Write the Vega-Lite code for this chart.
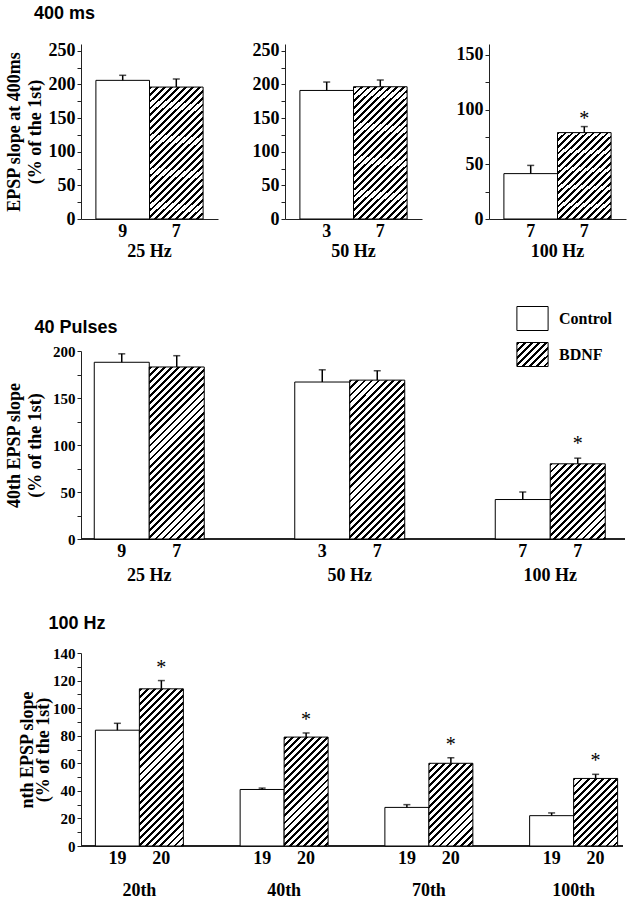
{
  "$schema": "https://vega.github.io/schema/vega-lite/v6.json",
  "padding": {"left": 5, "top": 4, "right": 5, "bottom": 0},
  "params": [
    {"name": "hatch", "value": [
      {"offset":0,"color":"#000"},{"offset":0.01,"color":"#000"},{"offset":0.01,"color":"#fff"},{"offset":0.025,"color":"#fff"},
      {"offset":0.025,"color":"#000"},{"offset":0.035,"color":"#000"},{"offset":0.035,"color":"#fff"},{"offset":0.05,"color":"#fff"},
      {"offset":0.05,"color":"#000"},{"offset":0.06,"color":"#000"},{"offset":0.06,"color":"#fff"},{"offset":0.075,"color":"#fff"},
      {"offset":0.075,"color":"#000"},{"offset":0.085,"color":"#000"},{"offset":0.085,"color":"#fff"},{"offset":0.1,"color":"#fff"},
      {"offset":0.1,"color":"#000"},{"offset":0.11,"color":"#000"},{"offset":0.11,"color":"#fff"},{"offset":0.125,"color":"#fff"},
      {"offset":0.125,"color":"#000"},{"offset":0.135,"color":"#000"},{"offset":0.135,"color":"#fff"},{"offset":0.15,"color":"#fff"},
      {"offset":0.15,"color":"#000"},{"offset":0.16,"color":"#000"},{"offset":0.16,"color":"#fff"},{"offset":0.175,"color":"#fff"},
      {"offset":0.175,"color":"#000"},{"offset":0.185,"color":"#000"},{"offset":0.185,"color":"#fff"},{"offset":0.2,"color":"#fff"},
      {"offset":0.2,"color":"#000"},{"offset":0.21,"color":"#000"},{"offset":0.21,"color":"#fff"},{"offset":0.225,"color":"#fff"},
      {"offset":0.225,"color":"#000"},{"offset":0.235,"color":"#000"},{"offset":0.235,"color":"#fff"},{"offset":0.25,"color":"#fff"},
      {"offset":0.25,"color":"#000"},{"offset":0.26,"color":"#000"},{"offset":0.26,"color":"#fff"},{"offset":0.275,"color":"#fff"},
      {"offset":0.275,"color":"#000"},{"offset":0.285,"color":"#000"},{"offset":0.285,"color":"#fff"},{"offset":0.3,"color":"#fff"},
      {"offset":0.3,"color":"#000"},{"offset":0.31,"color":"#000"},{"offset":0.31,"color":"#fff"},{"offset":0.325,"color":"#fff"},
      {"offset":0.325,"color":"#000"},{"offset":0.335,"color":"#000"},{"offset":0.335,"color":"#fff"},{"offset":0.35,"color":"#fff"},
      {"offset":0.35,"color":"#000"},{"offset":0.36,"color":"#000"},{"offset":0.36,"color":"#fff"},{"offset":0.375,"color":"#fff"},
      {"offset":0.375,"color":"#000"},{"offset":0.385,"color":"#000"},{"offset":0.385,"color":"#fff"},{"offset":0.4,"color":"#fff"},
      {"offset":0.4,"color":"#000"},{"offset":0.41,"color":"#000"},{"offset":0.41,"color":"#fff"},{"offset":0.425,"color":"#fff"},
      {"offset":0.425,"color":"#000"},{"offset":0.435,"color":"#000"},{"offset":0.435,"color":"#fff"},{"offset":0.45,"color":"#fff"},
      {"offset":0.45,"color":"#000"},{"offset":0.46,"color":"#000"},{"offset":0.46,"color":"#fff"},{"offset":0.475,"color":"#fff"},
      {"offset":0.475,"color":"#000"},{"offset":0.485,"color":"#000"},{"offset":0.485,"color":"#fff"},{"offset":0.5,"color":"#fff"},
      {"offset":0.5,"color":"#000"},{"offset":0.51,"color":"#000"},{"offset":0.51,"color":"#fff"},{"offset":0.525,"color":"#fff"},
      {"offset":0.525,"color":"#000"},{"offset":0.535,"color":"#000"},{"offset":0.535,"color":"#fff"},{"offset":0.55,"color":"#fff"},
      {"offset":0.55,"color":"#000"},{"offset":0.56,"color":"#000"},{"offset":0.56,"color":"#fff"},{"offset":0.575,"color":"#fff"},
      {"offset":0.575,"color":"#000"},{"offset":0.585,"color":"#000"},{"offset":0.585,"color":"#fff"},{"offset":0.6,"color":"#fff"},
      {"offset":0.6,"color":"#000"},{"offset":0.61,"color":"#000"},{"offset":0.61,"color":"#fff"},{"offset":0.625,"color":"#fff"},
      {"offset":0.625,"color":"#000"},{"offset":0.635,"color":"#000"},{"offset":0.635,"color":"#fff"},{"offset":0.65,"color":"#fff"},
      {"offset":0.65,"color":"#000"},{"offset":0.66,"color":"#000"},{"offset":0.66,"color":"#fff"},{"offset":0.675,"color":"#fff"},
      {"offset":0.675,"color":"#000"},{"offset":0.685,"color":"#000"},{"offset":0.685,"color":"#fff"},{"offset":0.7,"color":"#fff"},
      {"offset":0.7,"color":"#000"},{"offset":0.71,"color":"#000"},{"offset":0.71,"color":"#fff"},{"offset":0.725,"color":"#fff"},
      {"offset":0.725,"color":"#000"},{"offset":0.735,"color":"#000"},{"offset":0.735,"color":"#fff"},{"offset":0.75,"color":"#fff"},
      {"offset":0.75,"color":"#000"},{"offset":0.76,"color":"#000"},{"offset":0.76,"color":"#fff"},{"offset":0.775,"color":"#fff"},
      {"offset":0.775,"color":"#000"},{"offset":0.785,"color":"#000"},{"offset":0.785,"color":"#fff"},{"offset":0.8,"color":"#fff"},
      {"offset":0.8,"color":"#000"},{"offset":0.81,"color":"#000"},{"offset":0.81,"color":"#fff"},{"offset":0.825,"color":"#fff"},
      {"offset":0.825,"color":"#000"},{"offset":0.835,"color":"#000"},{"offset":0.835,"color":"#fff"},{"offset":0.85,"color":"#fff"},
      {"offset":0.85,"color":"#000"},{"offset":0.86,"color":"#000"},{"offset":0.86,"color":"#fff"},{"offset":0.875,"color":"#fff"},
      {"offset":0.875,"color":"#000"},{"offset":0.885,"color":"#000"},{"offset":0.885,"color":"#fff"},{"offset":0.9,"color":"#fff"},
      {"offset":0.9,"color":"#000"},{"offset":0.91,"color":"#000"},{"offset":0.91,"color":"#fff"},{"offset":0.925,"color":"#fff"},
      {"offset":0.925,"color":"#000"},{"offset":0.935,"color":"#000"},{"offset":0.935,"color":"#fff"},{"offset":0.95,"color":"#fff"},
      {"offset":0.95,"color":"#000"},{"offset":0.96,"color":"#000"},{"offset":0.96,"color":"#fff"},{"offset":0.975,"color":"#fff"},
      {"offset":0.975,"color":"#000"},{"offset":0.985,"color":"#000"},{"offset":0.985,"color":"#fff"},{"offset":1,"color":"#fff"}
    ]}
  ],
  "config": {
    "view": {"stroke": null},
    "font": "Liberation Serif",
    "axis": {
      "grid": false, "domainColor": "#222", "tickColor": "#222", "labelColor": "#000", "titleColor": "#000",
      "labelFont": "Liberation Serif", "labelFontWeight": "bold", "titleFont": "Liberation Serif", "titleFontWeight": "bold",
      "titleFontSize": 18, "titleLineHeight": 21, "domainWidth": 1, "tickWidth": 1
    },
    "axisY": {"labelOverlap": false, "tickCount": 100},
    "title": {"font": "Liberation Sans", "fontSize": 18, "fontWeight": "bold", "anchor": "start", "frame": "bounds", "baseline": "alphabetic", "color": "#000"}
  },
  "datasets": {
    "r1": [
      {"grp": "25 Hz", "series": "Control", "mean": 206, "upper": 213.5, "n": "9", "sig": ""},
      {"grp": "25 Hz", "series": "BDNF", "mean": 196, "upper": 208, "n": "7", "sig": ""},
      {"grp": "50 Hz", "series": "Control", "mean": 191, "upper": 203.5, "n": "3", "sig": ""},
      {"grp": "50 Hz", "series": "BDNF", "mean": 196.5, "upper": 206.5, "n": "7", "sig": ""},
      {"grp": "100 Hz", "series": "Control", "mean": 41.5, "upper": 49, "n": "7", "sig": ""},
      {"grp": "100 Hz", "series": "BDNF", "mean": 79, "upper": 84.5, "n": "7", "sig": "*"}
    ],
    "r2": [
      {"grp": "25 Hz", "series": "Control", "mean": 188, "upper": 197, "n": "9", "sig": ""},
      {"grp": "25 Hz", "series": "BDNF", "mean": 183, "upper": 195, "n": "7", "sig": ""},
      {"grp": "50 Hz", "series": "Control", "mean": 167, "upper": 180, "n": "3", "sig": ""},
      {"grp": "50 Hz", "series": "BDNF", "mean": 169, "upper": 179, "n": "7", "sig": ""},
      {"grp": "100 Hz", "series": "Control", "mean": 42, "upper": 50, "n": "7", "sig": ""},
      {"grp": "100 Hz", "series": "BDNF", "mean": 80, "upper": 86, "n": "7", "sig": "*"}
    ],
    "r3": [
      {"grp": "20th", "series": "Control", "mean": 84, "upper": 89, "n": "19", "sig": ""},
      {"grp": "20th", "series": "BDNF", "mean": 114, "upper": 120, "n": "20", "sig": "*"},
      {"grp": "40th", "series": "Control", "mean": 41, "upper": 42, "n": "19", "sig": ""},
      {"grp": "40th", "series": "BDNF", "mean": 79, "upper": 82, "n": "20", "sig": "*"},
      {"grp": "70th", "series": "Control", "mean": 28, "upper": 30, "n": "19", "sig": ""},
      {"grp": "70th", "series": "BDNF", "mean": 60, "upper": 64, "n": "20", "sig": "*"},
      {"grp": "100th", "series": "Control", "mean": 22, "upper": 24, "n": "19", "sig": ""},
      {"grp": "100th", "series": "BDNF", "mean": 49, "upper": 52, "n": "20", "sig": "*"}
    ]
  },
  "columns": 1,
  "align": "none",
  "spacing": 46,
  "resolve": {"scale": {"xOffset": "independent", "fill": "independent"}, "legend": {"fill": "independent"}},
  "concat": [
    {
      "title": {"text": "400 ms", "dx": 29, "offset": 19},
      "spacing": 34,
      "resolve": {"scale": {"xOffset": "independent"}},
      "hconcat": [
        {
          "width": 137, "height": 175,
          "data": {"name": "r1"},
          "transform": [{"filter": "datum.grp === '25 Hz'"}],
          "encoding": {
            "x": {"field": "grp", "type": "nominal", "title": null, "scale": {"paddingInner": 0, "paddingOuter": 0},
                  "axis": {"ticks": false, "tickSize": 0, "labelPadding": 32, "labelBaseline": "middle", "labelAngle": 0, "labelFontSize": 18}},
            "xOffset": {"field": "series", "type": "nominal", "sort": ["Control", "BDNF"], "scale": {"paddingInner": 0, "paddingOuter": 0.278}}
          },
          "layer": [
            {"mark": {"type": "bar", "stroke": "#000", "strokeWidth": 1},
             "encoding": {
               "y": {"field": "mean", "type": "quantitative", "scale": {"domain": [0, 250]},
                     "axis": {"title": ["EPSP slope at 400ms", "(% of the 1st)"], "titlePadding": 4, "values": [0,25,50,75,100,125,150,175,200,225,250], "tickCount": 100, "labelExpr": "datum.value % 50 === 0 ? datum.label : ''", "labelOverlap": false, "tickSize": 4, "labelPadding": 2, "labelFontSize": 18}},
               "fill": {"value": {"expr": "datum.series === 'BDNF' ? {gradient: 'linear', x1: 0, y1: 0, x2: 282.84 * 54 / (2916 + pow(0.7 * datum.mean, 2)), y2: 282.84 * 0.7 * datum.mean / (2916 + pow(0.7 * datum.mean, 2)), stops: hatch} : '#ffffff'"}}
             }},
            {"mark": {"type": "rule", "color": "#000", "strokeWidth": 1.5},
             "encoding": {"y": {"field": "mean", "type": "quantitative"}, "y2": {"field": "upper"}}},
            {"mark": {"type": "tick", "color": "#000", "size": 7, "thickness": 1.5},
             "encoding": {"y": {"field": "upper", "type": "quantitative"}}},
            {"mark": {"type": "text", "baseline": "middle", "dy": 13, "fontSize": 18, "fontWeight": "bold", "font": "Liberation Serif"},
             "encoding": {"y": {"datum": 0}, "text": {"field": "n"}}},
            {"mark": {"type": "text", "baseline": "alphabetic", "dy": -2, "fontSize": 20, "font": "Liberation Serif"},
             "encoding": {"y": {"field": "upper", "type": "quantitative"}, "text": {"field": "sig"}}}
          ]
        },
        {
          "width": 137, "height": 175,
          "data": {"name": "r1"},
          "transform": [{"filter": "datum.grp === '50 Hz'"}],
          "encoding": {
            "x": {"field": "grp", "type": "nominal", "title": null, "scale": {"paddingInner": 0, "paddingOuter": 0},
                  "axis": {"ticks": false, "tickSize": 0, "labelPadding": 32, "labelBaseline": "middle", "labelAngle": 0, "labelFontSize": 18}},
            "xOffset": {"field": "series", "type": "nominal", "sort": ["Control", "BDNF"], "scale": {"paddingInner": 0, "paddingOuter": 0.278}}
          },
          "layer": [
            {"mark": {"type": "bar", "stroke": "#000", "strokeWidth": 1},
             "encoding": {
               "y": {"field": "mean", "type": "quantitative", "scale": {"domain": [0, 250]},
                     "axis": {"title": null, "values": [0,25,50,75,100,125,150,175,200,225,250], "tickCount": 100, "labelExpr": "datum.value % 50 === 0 ? datum.label : ''", "labelOverlap": false, "tickSize": 4, "labelPadding": 2, "labelFontSize": 18}},
               "fill": {"value": {"expr": "datum.series === 'BDNF' ? {gradient: 'linear', x1: 0, y1: 0, x2: 282.84 * 54 / (2916 + pow(0.7 * datum.mean, 2)), y2: 282.84 * 0.7 * datum.mean / (2916 + pow(0.7 * datum.mean, 2)), stops: hatch} : '#ffffff'"}}
             }},
            {"mark": {"type": "rule", "color": "#000", "strokeWidth": 1.5},
             "encoding": {"y": {"field": "mean", "type": "quantitative"}, "y2": {"field": "upper"}}},
            {"mark": {"type": "tick", "color": "#000", "size": 7, "thickness": 1.5},
             "encoding": {"y": {"field": "upper", "type": "quantitative"}}},
            {"mark": {"type": "text", "baseline": "middle", "dy": 13, "fontSize": 18, "fontWeight": "bold", "font": "Liberation Serif"},
             "encoding": {"y": {"datum": 0}, "text": {"field": "n"}}},
            {"mark": {"type": "text", "baseline": "alphabetic", "dy": -2, "fontSize": 20, "font": "Liberation Serif"},
             "encoding": {"y": {"field": "upper", "type": "quantitative"}, "text": {"field": "sig"}}}
          ]
        },
        {
          "width": 137, "height": 175,
          "data": {"name": "r1"},
          "transform": [{"filter": "datum.grp === '100 Hz'"}],
          "encoding": {
            "x": {"field": "grp", "type": "nominal", "title": null, "scale": {"paddingInner": 0, "paddingOuter": 0},
                  "axis": {"ticks": false, "tickSize": 0, "labelPadding": 32, "labelBaseline": "middle", "labelAngle": 0, "labelFontSize": 18}},
            "xOffset": {"field": "series", "type": "nominal", "sort": ["Control", "BDNF"], "scale": {"paddingInner": 0, "paddingOuter": 0.278}}
          },
          "layer": [
            {"mark": {"type": "bar", "stroke": "#000", "strokeWidth": 1},
             "encoding": {
               "y": {"field": "mean", "type": "quantitative", "scale": {"domain": [0, 150]},
                     "axis": {"title": null, "values": [0,25,50,75,100,125,150], "tickCount": 100, "labelExpr": "datum.value % 50 === 0 ? datum.label : ''", "labelOverlap": false, "tickSize": 4, "labelPadding": 2, "labelFontSize": 18}},
               "fill": {"value": {"expr": "datum.series === 'BDNF' ? {gradient: 'linear', x1: 0, y1: 0, x2: 282.84 * 54 / (2916 + pow(1.1667 * datum.mean, 2)), y2: 282.84 * 1.1667 * datum.mean / (2916 + pow(1.1667 * datum.mean, 2)), stops: hatch} : '#ffffff'"}}
             }},
            {"mark": {"type": "rule", "color": "#000", "strokeWidth": 1.5},
             "encoding": {"y": {"field": "mean", "type": "quantitative"}, "y2": {"field": "upper"}}},
            {"mark": {"type": "tick", "color": "#000", "size": 7, "thickness": 1.5},
             "encoding": {"y": {"field": "upper", "type": "quantitative"}}},
            {"mark": {"type": "text", "baseline": "middle", "dy": 13, "fontSize": 18, "fontWeight": "bold", "font": "Liberation Serif"},
             "encoding": {"y": {"datum": 0}, "text": {"field": "n"}}},
            {"mark": {"type": "text", "baseline": "alphabetic", "dy": -2, "fontSize": 20, "font": "Liberation Serif"},
             "encoding": {"y": {"field": "upper", "type": "quantitative"}, "text": {"field": "sig"}}}
          ]
        }
      ]
    },
    {
      "columns": 1,
      "align": "none",
      "spacing": 31,
      "resolve": {"scale": {"xOffset": "independent", "fill": "independent"}, "legend": {"fill": "independent"}},
      "concat": [
        {
          "title": {"text": "40 Pulses", "dx": 29, "offset": -31},
          "width": 544, "height": 188,
          "data": {"name": "r2"},
          "layer": [
            {"mark": {"type": "rule", "color": "#222", "strokeWidth": 1},
             "encoding": {"y": {"datum": 0, "type": "quantitative"}}},
            {
              "encoding": {
                "x": {"field": "grp", "type": "nominal", "sort": ["25 Hz", "50 Hz", "100 Hz"], "title": null,
                      "scale": {"range": [-32, 569.5], "paddingInner": 0, "paddingOuter": 0},
                      "axis": {"domain": false, "ticks": false, "tickSize": 0, "labelPadding": 36, "labelBaseline": "middle", "labelAngle": 0, "labelFontSize": 18}},
                "xOffset": {"field": "series", "type": "nominal", "sort": ["Control", "BDNF"], "scale": {"paddingInner": 0, "paddingOuter": 0.823}}
              },
              "layer": [
                {"mark": {"type": "bar", "stroke": "#000", "strokeWidth": 1},
                 "encoding": {
                   "y": {"datum": 0, "type": "quantitative"},
                   "fill": {"field": "series", "type": "nominal", "sort": ["Control", "BDNF"],
                            "scale": {"domain": ["Control", "BDNF"], "range": ["#ffffff", {"expr": "{gradient: 'linear', x1: 0, y1: 0, x2: 5.7, y2: 4.42, stops: hatch}"}]},
                            "legend": {"title": null, "orient": "none", "legendX": 439, "legendY": -45, "padding": 0,
                                       "symbolType": "M-1.3,-1L1.3,-1L1.3,1L-1.3,1Z", "symbolSize": 576, "symbolStrokeWidth": 1,
                                       "symbolStrokeColor": "#000", "symbolOpacity": 1, "rowPadding": 7, "labelOffset": 14,
                                       "labelFont": "Liberation Serif", "labelFontWeight": "bold", "labelFontSize": 16, "labelColor": "#000"}}
                 }},
                {"mark": {"type": "bar", "stroke": "#000", "strokeWidth": 1},
                 "encoding": {
                   "y": {"field": "mean", "type": "quantitative", "scale": {"domain": [0, 200]},
                         "axis": {"title": ["40th EPSP slope", "(% of the 1st)"], "titlePadding": 8, "values": [0,25,50,75,100,125,150,175,200], "tickCount": 100, "labelExpr": "datum.value % 50 === 0 ? datum.label : ''", "labelOverlap": false, "tickSize": 4, "labelPadding": 2, "labelFontSize": 15}},
                   "fill": {"value": {"expr": "datum.series === 'BDNF' ? {gradient: 'linear', x1: 0, y1: 0, x2: 282.84 * 55 / (3025 + pow(0.94 * datum.mean, 2)), y2: 282.84 * 0.94 * datum.mean / (3025 + pow(0.94 * datum.mean, 2)), stops: hatch} : '#ffffff'"}}
                 }},
                {"mark": {"type": "rule", "color": "#000", "strokeWidth": 1.5},
                 "encoding": {"y": {"field": "mean", "type": "quantitative"}, "y2": {"field": "upper"}}},
                {"mark": {"type": "tick", "color": "#000", "size": 7, "thickness": 1.5},
                 "encoding": {"y": {"field": "upper", "type": "quantitative"}}},
                {"mark": {"type": "text", "baseline": "middle", "dy": 13, "fontSize": 18, "fontWeight": "bold", "font": "Liberation Serif"},
                 "encoding": {"y": {"datum": 0}, "text": {"field": "n"}}},
                {"mark": {"type": "text", "baseline": "alphabetic", "dy": -8, "fontSize": 20, "font": "Liberation Serif"},
                 "encoding": {"y": {"field": "upper", "type": "quantitative"}, "text": {"field": "sig"}}}
              ]
            }
          ]
        },
        {
          "title": {"text": "100 Hz", "dx": 30, "offset": 13},
          "width": 542, "height": 193,
          "data": {"name": "r3"},
          "layer": [
            {"mark": {"type": "rule", "color": "#222", "strokeWidth": 1},
             "encoding": {"y": {"datum": 0, "type": "quantitative"}}},
            {
              "encoding": {
                "x": {"field": "grp", "type": "nominal", "sort": ["20th", "40th", "70th", "100th"], "title": null,
                      "scale": {"range": [-14, 565], "paddingInner": 0, "paddingOuter": 0},
                      "axis": {"domain": false, "ticks": false, "tickSize": 0, "labelPadding": 44, "labelBaseline": "middle", "labelAngle": 0, "labelFontSize": 18}},
                "xOffset": {"field": "series", "type": "nominal", "sort": ["Control", "BDNF"], "scale": {"paddingInner": 0, "paddingOuter": 0.645}}
              },
              "layer": [
                {"mark": {"type": "bar", "stroke": "#000", "strokeWidth": 1},
                 "encoding": {
                   "y": {"field": "mean", "type": "quantitative", "scale": {"domain": [0, 140]},
                         "axis": {"title": ["nth EPSP slope", "(% of the 1st)"], "titlePadding": 0, "titleLineHeight": 16, "values": [0,10,20,30,40,50,60,70,80,90,100,110,120,130,140], "tickCount": 100, "labelExpr": "datum.value % 20 === 0 ? datum.label : ''", "labelOverlap": false, "tickSize": 4, "labelPadding": 2, "labelFontSize": 15}},
                   "fill": {"value": {"expr": "datum.series === 'BDNF' ? {gradient: 'linear', x1: 0, y1: 0, x2: 282.84 * 44 / (1936 + pow(1.3786 * datum.mean, 2)), y2: 282.84 * 1.3786 * datum.mean / (1936 + pow(1.3786 * datum.mean, 2)), stops: hatch} : '#ffffff'"}}
                 }},
                {"mark": {"type": "rule", "color": "#000", "strokeWidth": 1.5},
                 "encoding": {"y": {"field": "mean", "type": "quantitative"}, "y2": {"field": "upper"}}},
                {"mark": {"type": "tick", "color": "#000", "size": 7, "thickness": 1.5},
                 "encoding": {"y": {"field": "upper", "type": "quantitative"}}},
                {"mark": {"type": "text", "baseline": "middle", "dy": 13, "fontSize": 18, "fontWeight": "bold", "font": "Liberation Serif"},
                 "encoding": {"y": {"datum": 0}, "text": {"field": "n"}}},
                {"mark": {"type": "text", "baseline": "alphabetic", "dy": -7, "fontSize": 20, "font": "Liberation Serif"},
                 "encoding": {"y": {"field": "upper", "type": "quantitative"}, "text": {"field": "sig"}}}
              ]
            }
          ]
        }
      ]
    }
  ]
}
